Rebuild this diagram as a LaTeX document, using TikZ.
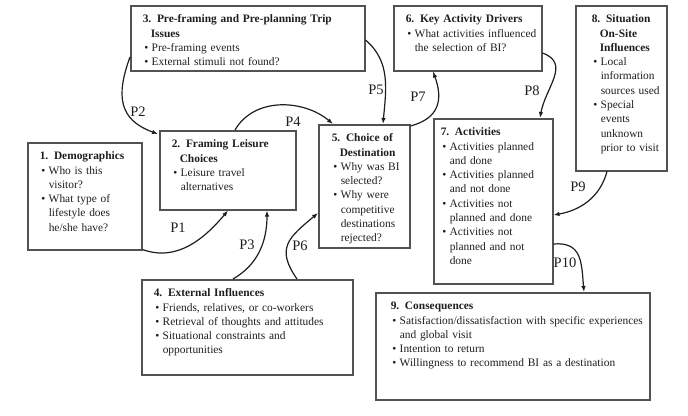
\documentclass[tikz,border=0pt]{standalone}
\usepackage{fontspec}
\setmainfont{Liberation Serif}
\usetikzlibrary{arrows.meta}
\definecolor{framegray}{HTML}{525252}
\definecolor{inkgray}{HTML}{1E1E1E}
\hyphenpenalty=10000
\exhyphenpenalty=10000
\tolerance=2000
\newcommand{\padleft}{12pt}
\newcommand{\padright}{10pt}
\newcommand{\boxhead}[1]{\parskip=0pt\leftskip=\padleft\rightskip=\padright plus 5em
  \noindent\hangindent=8pt\hangafter=1\textbf{#1}\par}
\newcommand{\boxitem}[1]{\noindent\hangindent=9pt\hangafter=1%
  \makebox[9pt][l]{\hspace{1.5pt}\textbullet}#1\par}
\begin{document}
\begin{tikzpicture}
[x=1pt, y=-1pt,
 nodedecorate/.style 2 args={shape=rectangle, draw=framegray, line width=1.5pt,
   anchor=north west, inner sep=0pt, text width=#1, text height=17pt, text depth=#2,
   font=\fontsize{11.4pt}{14.3pt}\selectfont, text=inkgray},
 textpad/.code 2 args={\renewcommand{\padleft}{#1}\renewcommand{\padright}{#2}},
 linedecorate/.style={-{Latex[length=6pt,width=4.5pt]}, line width=1.2pt, draw=inkgray},
 labeldecorate/.style={font=\fontsize{14.5pt}{16pt}\selectfont, text=inkgray, inner sep=0pt}]
\useasboundingbox (0,0) rectangle (688,415);
%% stages
\node (frame3) at (130,5) [nodedecorate={234pt}{48pt}, textpad={12pt}{12pt}]
 {\boxhead{3. Pre-framing and Pre-planning Trip Issues}
  \boxitem{Pre-framing events}
  \boxitem{External stimuli not found?}};
\node (frame6) at (393,5) [nodedecorate={148pt}{48pt}, textpad={12pt}{4pt}]
 {\boxhead{6. Key Activity Drivers}
  \boxitem{What activities influenced the selection of BI?}};
\node (frame8) at (575,5) [nodedecorate={91pt}{148pt}, textpad={16pt}{6pt}]
 {\boxhead{8. Situation On-Site Influences}
  \boxitem{Local information sources used}
  \boxitem{Special events unknown prior to visit}};
\node (frame2) at (159,130) [nodedecorate={136pt}{62pt}, textpad={12pt}{10pt}]
 {\boxhead{2. Framing Leisure Choices}
  \boxitem{Leisure travel alternatives}};
\node (frame1) at (27,142) [nodedecorate={114pt}{90pt}, textpad={12pt}{10pt}]
 {\boxhead{1. Demographics}
  \boxitem{Who is this visitor?}
  \boxitem{What type of lifestyle does he/she have?}};
\node (frame5) at (318,124) [nodedecorate={91pt}{106pt}, textpad={13pt}{7pt}]
 {\boxhead{5. Choice of Destination}
  \boxitem{Why was BI selected?}
  \boxitem{Why were competitive destinations rejected?}};
\node (frame7) at (433,118) [nodedecorate={119pt}{148pt}, textpad={7pt}{10pt}]
 {\boxhead{7. Activities}
  \boxitem{Activities planned and done}
  \boxitem{Activities planned and not done}
  \boxitem{Activities not planned and done}
  \boxitem{Activities not planned and not done}};
\node (frame4) at (141,279) [nodedecorate={211pt}{78pt}, textpad={12pt}{12pt}]
 {\boxhead{4. External Influences}
  \boxitem{Friends, relatives, or co-workers}
  \boxitem{Retrieval of thoughts and attitudes}
  \boxitem{Situational constraints and opportunities}};
\node (frame9) at (375,292) [nodedecorate={274pt}{90pt}, textpad={15pt}{4pt}]
 {\boxhead{9. Consequences}
  \boxitem{Satisfaction/dissatisfaction with specific experiences and global visit}
  \boxitem{Intention to return}
  \boxitem{Willingness to recommend BI as a destination}};
%% propositions
\foreach \labelname/\x/\y in {P1/178/228, P2/138/112, P3/247/245, P4/293/122,
 P5/376/90, P6/300/246, P7/418/97, P8/532/91, P9/578/187, P10/565/263}
{
  \node (\labelname) at (\x,\y) [labeldecorate] {\labelname};
}
%% arrows
\path
 ([yshift=1pt]frame1.south east) edge[linedecorate, out=-20, in=-130]
   ([xshift=69pt]frame2.south west)
 ([yshift=-52pt]frame3.north west) edge[linedecorate, out=250, in=160, looseness=1.3]
   ([xshift=-1pt,yshift=-4pt]frame2.north west)
 ([xshift=92pt]frame4.north west) edge[linedecorate, out=30, in=-90]
   ([xshift=108pt]frame2.south west)
 ([xshift=76pt]frame2.north west) edge[linedecorate, out=60, in=140]
   ([xshift=15pt]frame5.north west)
 ([yshift=-35pt]frame3.north east) edge[linedecorate, out=-40, in=85]
   ([xshift=65pt]frame5.north west)
 ([xshift=156pt]frame4.north west) edge[linedecorate, out=125, in=-140, looseness=1.4]
   ([yshift=-89pt]frame5.north west)
 ([yshift=-2pt]frame5.north east) edge[linedecorate, out=15, in=-70, looseness=1.3]
   ([xshift=40pt]frame6.south west)
 ([yshift=-48pt]frame6.north east) edge[linedecorate, out=-20, in=80, looseness=1.2]
   ([xshift=107pt]frame7.north west)
 ([xshift=32pt]frame8.south west) edge[linedecorate, out=-105, in=10]
   ([yshift=-97pt]frame7.north east)
 ([yshift=-126pt]frame7.north east) edge[linedecorate, out=5, in=95, looseness=1.3]
   ([xshift=209pt]frame9.north west);
\end{tikzpicture}
\end{document}
